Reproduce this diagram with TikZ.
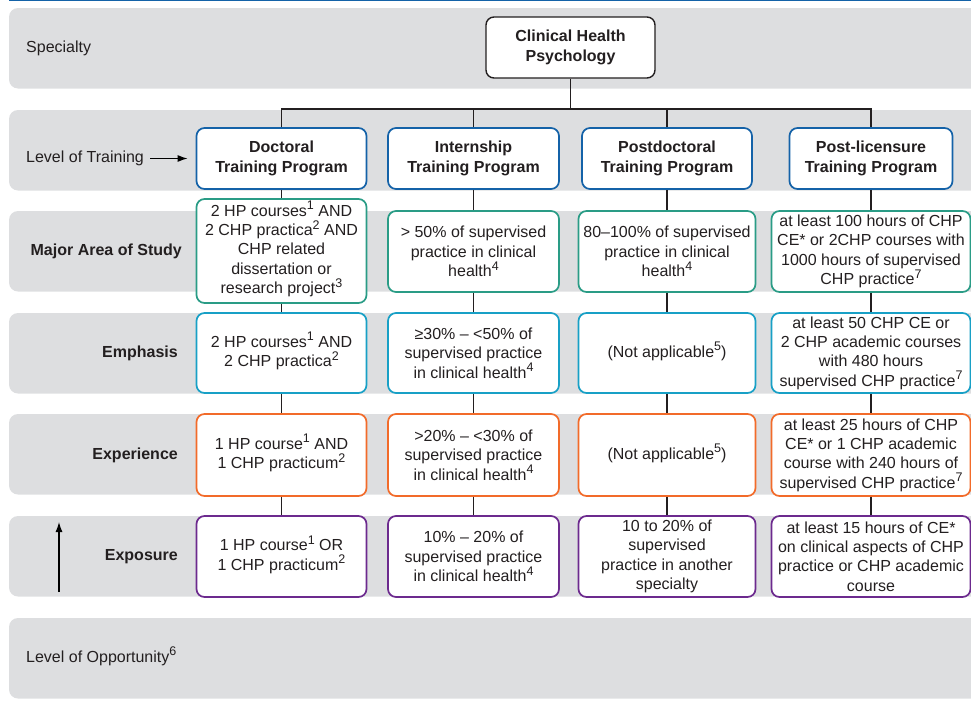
\documentclass[tikz,border=0pt]{standalone}
\usepackage{fontspec}
\setmainfont{Liberation Sans}
\usetikzlibrary{arrows.meta, positioning}

\definecolor{bandgray}{HTML}{DDDEE0}
\definecolor{lvlblue}{HTML}{1462A8}
\definecolor{majgreen}{HTML}{2A9C86}
\definecolor{empcyan}{HTML}{18A0C6}
\definecolor{exporange}{HTML}{F26B2A}
\definecolor{expopurple}{HTML}{6C2A8E}
\definecolor{ink}{HTML}{231F20}

\newcommand{\fnum}[1]{\raisebox{6.5pt}[0pt][0pt]{\fontsize{12.5}{13}\selectfont #1}}

\begin{document}
\begin{tikzpicture}[x=1pt, y=-1pt,
  font=\fontsize{16}{19.3}\selectfont, text=ink,
  band/.style={fill=bandgray, rounded corners=9pt},
  box/.style={draw, line width=1.7pt, rounded corners=8pt, fill=white, align=center, inner sep=1pt},
  chpbox/.style={box, draw=ink, line width=1.4pt, minimum width=169pt, minimum height=61pt, font=\fontsize{16}{20}\selectfont\bfseries},
  lvlbox/.style={box, draw=lvlblue, minimum height=61pt, font=\fontsize{16}{20}\selectfont\bfseries},
  majbox/.style={box, draw=majgreen},
  empbox/.style={box, draw=empcyan, minimum height=80pt},
  expbox/.style={box, draw=exporange, minimum height=82pt},
  expobox/.style={box, draw=expopurple, minimum height=81pt},
  rowlabel/.style={anchor=east, inner sep=0pt, font=\fontsize{16}{19}\selectfont\bfseries},
  sidelabel/.style={anchor=west, inner sep=0pt},
  link/.style={line width=1.3pt, draw=ink}]

\useasboundingbox (0,0) rectangle (971,715);
\clip (0,0) rectangle (971,715);

\draw[lvlblue, line width=1.5pt] (9,0.6) -- (990,0.6);
\foreach \y in {8,110,211,313,414,516,618}
  \fill[band] (9,\y) rectangle (990,\y+80.5);

% row labels
\node[sidelabel] (spec) at (26,48) {Specialty};
\node[sidelabel] (lvl) at (26,158.5) {Level of Training};
\node[rowlabel] (maj) at (182,251) {Major Area of Study};
\node[rowlabel] (emph) at (178,353) {Emphasis};
\node[rowlabel] (exper) at (178,455) {Experience};
\node[rowlabel] (expos) at (178,556.5) {Exposure};
\node[sidelabel] (opp) at (26,658) {Level of Opportunity\fnum{6}};

\node[chpbox] (chp) at (570.5,47.5) {Clinical Health\\Psychology};

% level of training
\node[lvlbox, minimum width=170pt] (doc) at (281.5,158.5) {Doctoral\\Training Program};
\node[lvlbox, minimum width=171pt] (int) at (473.5,158.5) {Internship\\Training Program};
\node[lvlbox, minimum width=170pt] (pdoc) at (667,158.5) {Postdoctoral\\Training Program};
\node[lvlbox, minimum width=163pt] (plic) at (871,158.5) {Post-licensure\\Training Program};

% major area of study
\node[majbox, minimum width=170pt, minimum height=104pt] (doc-maj) at (281.5,251) {2 HP courses\fnum{1} AND\\2 CHP practica\fnum{2} AND\\CHP related\\dissertation or\\research project\fnum{3}};
\node[majbox, minimum width=171pt, minimum height=81pt] (int-maj) at (473.5,251.5) {> 50\% of supervised\\practice in clinical\\health\fnum{4}};
\node[majbox, minimum width=177pt, minimum height=81pt] (pdoc-maj) at (667,251.5) {80–100\% of supervised\\practice in clinical\\health\fnum{4}};
\node[majbox, minimum width=199pt, minimum height=81pt] (plic-maj) at (871,251.5) {at least 100 hours of CHP\\CE* or 2CHP courses with\\1000 hours of supervised\\CHP practice\fnum{7}};

% emphasis
\node[empbox, minimum width=170pt] (doc-emph) at (281.5,353) {2 HP courses\fnum{1} AND\\2 CHP practica\fnum{2}};
\node[empbox, minimum width=171pt] (int-emph) at (473.5,353) {≥30\% – <50\% of\\supervised practice\\in clinical health\fnum{4}};
\node[empbox, minimum width=177pt] (pdoc-emph) at (667,353) {(Not applicable\fnum{5})};
\node[empbox, minimum width=199pt] (plic-emph) at (871,353) {at least 50 CHP CE or\\2 CHP academic courses\\with 480 hours\\supervised CHP practice\fnum{7}};

% experience
\node[expbox, minimum width=170pt] (doc-exp) at (281.5,455) {1 HP course\fnum{1} AND\\1 CHP practicum\fnum{2}};
\node[expbox, minimum width=171pt] (int-exp) at (473.5,455) {>20\% – <30\% of\\supervised practice\\in clinical health\fnum{4}};
\node[expbox, minimum width=177pt] (pdoc-exp) at (667,455) {(Not applicable\fnum{5})};
\node[expbox, minimum width=199pt] (plic-exp) at (871,455) {at least 25 hours of CHP\\CE* or 1 CHP academic\\course with 240 hours of\\supervised CHP practice\fnum{7}};

% exposure
\node[expobox, minimum width=170pt] (doc-expo) at (281.5,556.5) {1 HP course\fnum{1} OR\\1 CHP practicum\fnum{2}};
\node[expobox, minimum width=171pt] (int-expo) at (473.5,556.5) {10\% – 20\% of\\supervised practice\\in clinical health\fnum{4}};
\node[expobox, minimum width=177pt] (pdoc-expo) at (667,556.5) {10 to 20\% of\\supervised\\practice in another\\specialty};
\node[expobox, minimum width=199pt] (plic-expo) at (871,556.5) {at least 15 hours of CE*\\on clinical aspects of CHP\\practice or CHP academic\\course};

% tree
\coordinate (bus) at (570.5,109);
\draw[link] (chp) -- (chp |- bus);
\draw[link] (doc.north) -- (doc.north |- bus) -- (plic.north |- bus) -- (plic.north);
\draw[link] (int.north) -- (int.north |- bus);
\draw[link] (pdoc.north) -- (pdoc.north |- bus);
\foreach \c in {doc,int,pdoc,plic}
  \draw[link] (\c) -- (\c-maj) -- (\c-emph) -- (\c-exp) -- (\c-expo);

\draw[-{Latex[length=10pt,width=7pt]}, line width=1.2pt, shorten >=8pt, shorten <=6pt] (lvl.east) -- (doc.west);
\coordinate (up-from) at (59,592);
\coordinate (up-to) at (59,522);
\draw[-{Latex[length=10pt,width=7pt]}, line width=1.2pt] (up-from) -- (up-to);
\end{tikzpicture}
\end{document}
